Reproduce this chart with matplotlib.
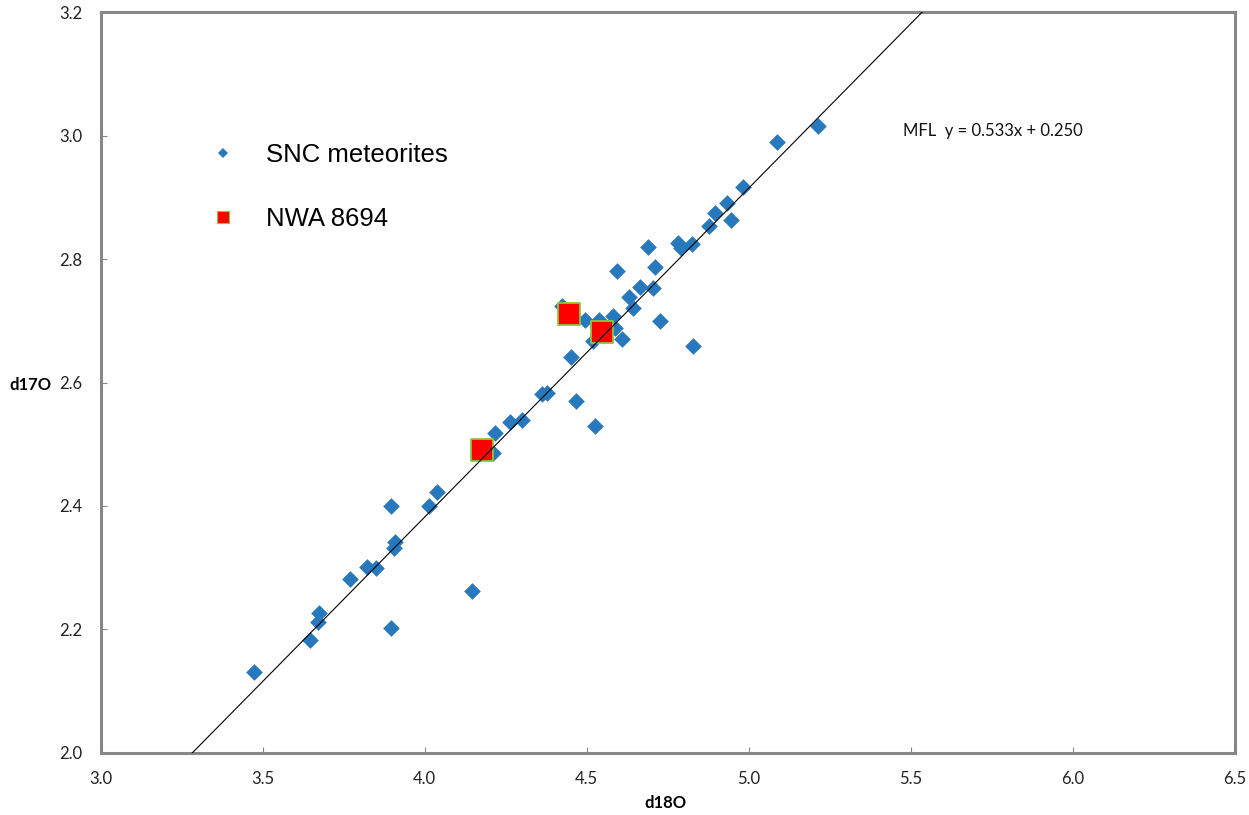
import matplotlib
matplotlib.use("Agg")
import matplotlib.pyplot as plt
import numpy as np
from matplotlib.lines import Line2D

# ---- data ----
snc_x = [3.474, 3.646, 3.672, 3.674, 3.896, 3.770, 3.822, 3.850, 3.906, 3.909,
         3.896, 4.013, 4.037, 4.146, 4.211, 4.217, 4.264, 4.300, 4.362, 4.377,
         4.467, 4.525, 4.451, 4.520, 4.424, 4.495, 4.538, 4.582, 4.588, 4.610,
         4.595, 4.631, 4.643, 4.665, 4.706, 4.710, 4.690, 4.727, 4.829, 4.782,
         4.790, 4.825, 4.877, 4.896, 4.933, 4.945, 4.983, 5.088, 5.214]
snc_y = [2.131, 2.183, 2.212, 2.226, 2.202, 2.281, 2.301, 2.299, 2.332, 2.341,
         2.400, 2.400, 2.423, 2.262, 2.486, 2.518, 2.536, 2.540, 2.581, 2.583,
         2.570, 2.529, 2.641, 2.668, 2.724, 2.701, 2.701, 2.708, 2.689, 2.670,
         2.780, 2.739, 2.721, 2.755, 2.753, 2.788, 2.820, 2.699, 2.659, 2.826,
         2.818, 2.824, 2.854, 2.874, 2.891, 2.863, 2.917, 2.990, 3.016]
nwa_x = [4.177, 4.446, 4.547]
nwa_y = [2.490, 2.711, 2.682]
mfl_slope = 0.533
mfl_intercept = 0.250
mfl_label = "MFL  y = 0.533x + 0.250"
x_ticks = [3.0, 3.5, 4.0, 4.5, 5.0, 5.5, 6.0, 6.5]
y_ticks = [2.0, 2.2, 2.4, 2.6, 2.8, 3.0, 3.2]
series_labels = ["SNC meteorites", "NWA 8694"]

BLUE = "#2878BD"
RED = "#FF0000"
GREEN_EDGE = "#8CC63F"
SPINE = "#878787"
TICKFONT = ["Lato", "DejaVu Sans"]

fig = plt.figure(figsize=(12.49, 8.15), dpi=100)
ax = fig.add_axes([0.0806, 0.0764, 0.9080, 0.9085])

ax.scatter(snc_x, snc_y, marker="D", s=8.5**2, color=BLUE, linewidths=0, zorder=2)
ax.scatter(nwa_x, nwa_y, marker="s", s=16.0**2, color=RED, edgecolors=GREEN_EDGE,
           linewidths=1.3, zorder=3)

lx = np.array([3.0, 6.5])
ax.plot(lx, mfl_slope * lx + mfl_intercept, color="black", lw=0.8, zorder=4)

ax.text(5.476, 3.0076, mfl_label, fontsize=12, family=TICKFONT, va="center", ha="left",
        color="#111111")

ax.set_xlim(3.0, 6.5)
ax.set_ylim(2.0, 3.2)
ax.set_xticks(x_ticks)
ax.set_yticks(y_ticks)
ax.set_xticklabels([f"{v:.1f}" for v in x_ticks], family=TICKFONT, fontsize=12, color="#222222")
ax.set_yticklabels([f"{v:.1f}" for v in y_ticks], family=TICKFONT, fontsize=12, color="#222222")
ax.tick_params(direction="in", length=4, width=0.8, color=SPINE, pad=13)

for sp in ax.spines.values():
    sp.set_color(SPINE)
    sp.set_linewidth(2.2)

ax.set_xlabel("d18O", fontsize=12, fontweight="bold", family=TICKFONT, va="center")
ax.set_ylabel("d17O", fontsize=12, fontweight="bold", family=TICKFONT, rotation=0,
              ha="center", va="center")
ax.xaxis.set_label_coords(0.4976, -0.068)
ax.yaxis.set_label_coords(-0.0623, 0.4966)

handles = [
    Line2D([], [], marker="D", linestyle="none", color=BLUE, markersize=5.2, markeredgewidth=0),
    Line2D([], [], marker="s", linestyle="none", color=RED, markeredgecolor=GREEN_EDGE,
           markersize=8.6, markeredgewidth=0.8),
]
leg = ax.legend(handles, series_labels, loc="upper left", bbox_to_anchor=(0.0968, 0.823),
                frameon=False, handlelength=1.0, handletextpad=1.15, labelspacing=1.55,
                borderpad=0, borderaxespad=0,
                prop={"family": ["Liberation Sans", "DejaVu Sans"], "size": 18.5})

fig.savefig("out.png", dpi=100)
